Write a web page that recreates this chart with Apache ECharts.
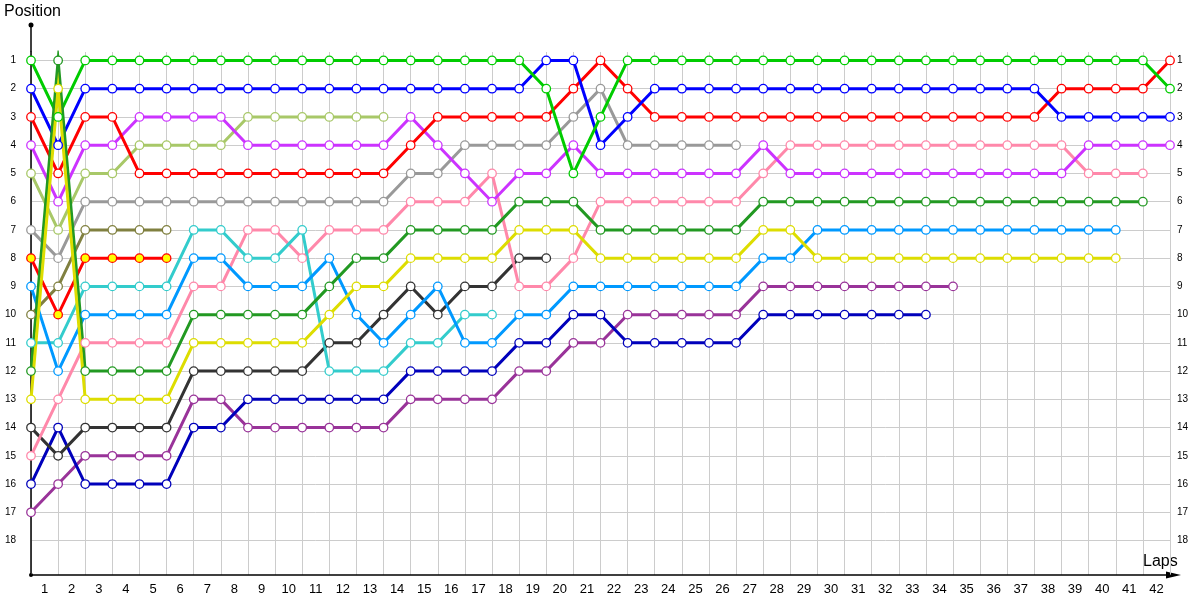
<!DOCTYPE html>
<html>
<head>
<meta charset="utf-8">
<title>Lap chart</title>
<script src="https://cdn.jsdelivr.net/npm/echarts@6/dist/echarts.min.js"></script>
<style>
  html, body { margin: 0; padding: 0; background: #fff; }
  #chart { width: 1200px; height: 600px; }
</style>
</head>
<body>
<div id="chart"></div>
<script>
// lap labels on the x axis and position labels on both y axes
const lapLabels = ['1','2','3','4','5','6','7','8','9','10','11','12','13','14','15','16','17','18','19','20','21',
  '22','23','24','25','26','27','28','29','30','31','32','33','34','35','36','37','38','39','40','41','42'];
const positions = [1,2,3,4,5,6,7,8,9,10,11,12,13,14,15,16,17,18];

// position of each driver per lap, starting at lap 0 (grid)
const green = [1,3,1,1,1,1,1,1,1,1, 1,1,1,1,1,1,1,1,1,2, 5,3,1,1,1,1,1,1,1,1, 1,1,1,1,1,1,1,1,1,1, 1,1,2];
const blue = [2,4,2,2,2,2,2,2,2,2, 2,2,2,2,2,2,2,2,2,1, 1,4,3,2,2,2,2,2,2,2, 2,2,2,2,2,2,2,2,3,3, 3,3,3];
const red = [3,5,3,3,5,5,5,5,5,5, 5,5,5,5,4,3,3,3,3,3, 2,1,2,3,3,3,3,3,3,3, 3,3,3,3,3,3,3,3,2,2, 2,2,1];
const magenta = [4,6,4,4,3,3,3,3,4,4, 4,4,4,4,3,4,5,6,5,5, 4,5,5,5,5,5,5,4,5,5, 5,5,5,5,5,5,5,5,5,4, 4,4,4];
const lightOlive = [5,7,5,5,4,4,4,4,3,3, 3,3,3,3];
const gray = [7,8,6,6,6,6,6,6,6,6, 6,6,6,6,5,5,4,4,4,4, 3,2,4,4,4,4,4];
const redYellow = [8,10,8,8,8,8];
const olive = [10,9,7,7,7,7];
const cyan = [11,11,9,9,9,9,7,7,8,8, 7,12,12,12,11,11,10,10];
const lightBlue = [9,12,10,10,10,10,8,8,9,9, 9,8,10,11,10,9,11,11,10,10, 9,9,9,9,9,9,9,8,8,7, 7,7,7,7,7,7,7,7,7,7, 7];
const pink = [15,13,11,11,11,11,9,9,7,7, 8,7,7,7,6,6,6,5,9,9, 8,6,6,6,6,6,6,5,4,4, 4,4,4,4,4,4,4,4,4,5, 5,5];
const darkGray = [14,15,14,14,14,14,12,12,12,12, 12,11,11,10,9,10,9,9,8,8];
const purple = [17,16,15,15,15,15,13,13,14,14, 14,14,14,14,13,13,13,13,12,12, 11,11,10,10,10,10,10,9,9,9, 9,9,9,9,9];
const darkBlue = [16,14,16,16,16,16,14,14,13,13, 13,13,13,13,12,12,12,12,11,11, 10,10,11,11,11,11,11,10,10,10, 10,10,10,10];
const darkGreen = [12,1,12,12,12,12,10,10,10,10, 10,9,8,8,7,7,7,7,6,6, 6,7,7,7,7,7,7,6,6,6, 6,6,6,6,6,6,6,6,6,6, 6,6];
const yellow = [13,2,13,13,13,13,11,11,11,11, 11,10,9,9,8,8,8,8,7,7, 7,8,8,8,8,8,8,7,7,8, 8,8,8,8,8,8,8,8,8,8, 8];

const drivers = [
  { data: purple, color: '#993399' },
  { data: darkBlue, color: '#0000bb' },
  { data: darkGray, color: '#333333' },
  { data: pink, color: '#ff88aa' },
  { data: cyan, color: '#33cccc' },
  { data: lightBlue, color: '#0099ff' },
  { data: olive, color: '#808040' },
  { data: redYellow, color: '#ff0000', fill: '#ffff00' },
  { data: gray, color: '#999999' },
  { data: lightOlive, color: '#a8c868' },
  { data: magenta, color: '#cc33ff' },
  { data: red, color: '#ff0000' },
  { data: blue, color: '#0000ff' },
  { data: green, color: '#00cc00' },
  { data: darkGreen, color: '#229922' },
  { data: yellow, color: '#dddd00' }
];

const font = 'Liberation Sans';

let myChart = echarts.init(document.getElementById('chart'));

let option = {
  animation: false,
  backgroundColor: '#fff',
  grid: { left: 31, right: 30, top: 52, bottom: 25 },
  xAxis: [
    {
      type: 'value',
      min: 0,
      max: 42,
      interval: 1,
      position: 'bottom',
      axisLine: { show: true, lineStyle: { color: '#000', width: 1.5 } },
      axisTick: { show: false },
      axisLabel: { show: false },
      splitLine: { show: true, lineStyle: { color: '#cccccc', width: 1 } }
    },
    {
      type: 'category',
      data: lapLabels,
      boundaryGap: true,
      position: 'bottom',
      axisLine: { show: false },
      axisTick: { show: false },
      splitLine: { show: false },
      axisLabel: { margin: 8, fontSize: 13, color: '#000', fontFamily: font, interval: 0 }
    }
  ],
  yAxis: [
    {
      type: 'value',
      inverse: true,
      min: 0.7,
      max: 19.22,
      position: 'left',
      axisLine: { show: true, lineStyle: { color: '#000', width: 1.5 } },
      axisTick: { show: false, customValues: positions },
      axisLabel: { customValues: positions, margin: 15, fontSize: 10, color: '#000', fontFamily: font },
      splitLine: { show: true, lineStyle: { color: '#cccccc', width: 1 } }
    },
    {
      type: 'value',
      inverse: true,
      min: 0.7,
      max: 19.22,
      position: 'right',
      axisLine: { show: false },
      axisTick: { show: false, customValues: positions },
      axisLabel: { customValues: positions, margin: 7, fontSize: 10, color: '#000', fontFamily: font },
      splitLine: { show: false }
    }
  ],
  graphic: [
    { type: 'line', shape: { x1: 31, y1: 25, x2: 31, y2: 52 }, style: { stroke: '#000', lineWidth: 1.5 } },
    { type: 'circle', shape: { cx: 31, cy: 25, r: 2.5 }, style: { fill: '#000' } },
    { type: 'circle', shape: { cx: 31, cy: 575, r: 2 }, style: { fill: '#000' } },
    { type: 'line', shape: { x1: 1170, y1: 575, x2: 1176, y2: 575 }, style: { stroke: '#000', lineWidth: 1.5 } },
    { type: 'polygon', shape: { points: [[1166, 571.5], [1181, 575], [1166, 578.5]] }, style: { fill: '#000' } },
    { type: 'text', left: 4, top: 4, style: { text: 'Position', fontSize: 16, fill: '#000', fontFamily: font } },
    { type: 'text', left: 1143, top: 554, style: { text: 'Laps', fontSize: 16, fill: '#000', fontFamily: font } }
  ],
  series: drivers.map(d => ({
    type: 'line',
    xAxisIndex: 0,
    yAxisIndex: 0,
    data: d.data.map((p, lap) => [lap, p]),
    symbol: 'circle',
    symbolSize: 8.5,
    showAllSymbol: true,
    lineStyle: { color: d.color, width: 3, join: 'miter', miterLimit: 20 },
    itemStyle: { color: d.fill || '#fff', borderColor: d.color, borderWidth: 1.3 },
    emphasis: { disabled: true },
    silent: true
  }))
};

myChart.setOption(option);
</script>
</body>
</html>
